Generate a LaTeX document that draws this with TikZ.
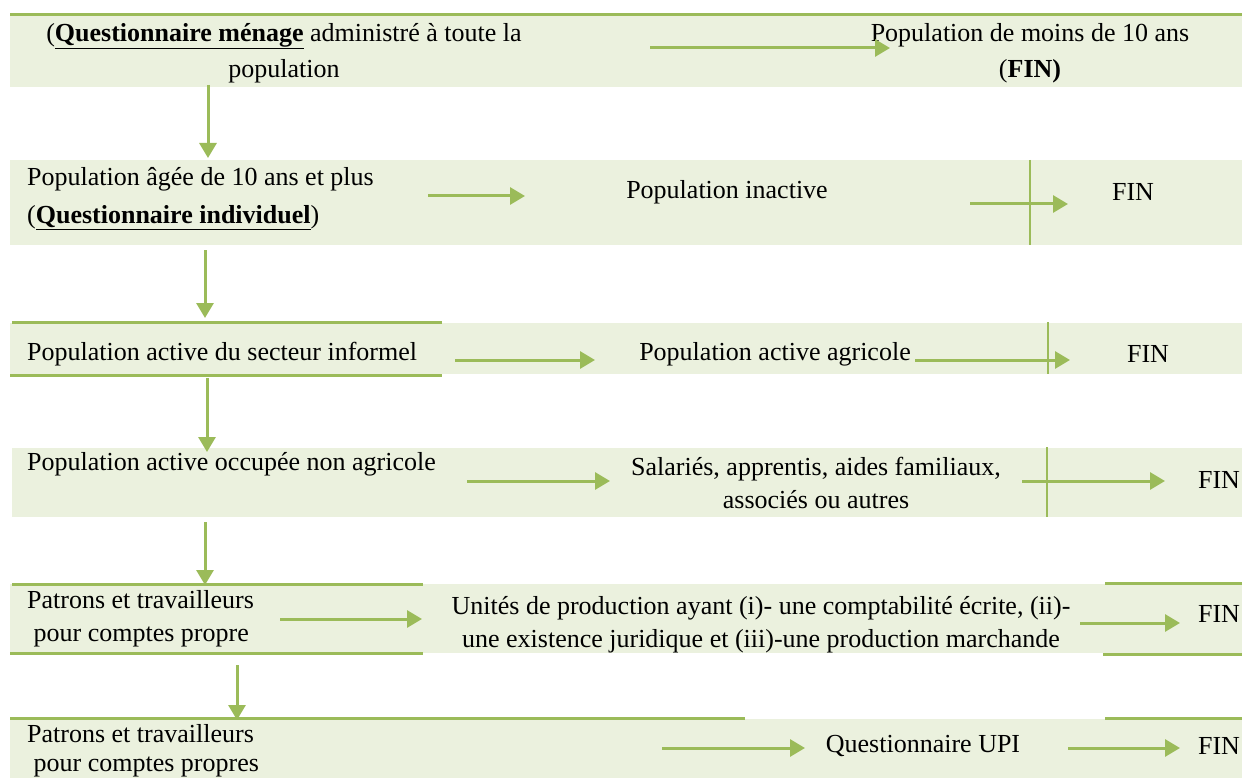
\documentclass[tikz,border=0pt]{standalone}
\usepackage{fontspec}
\setmainfont{Liberation Serif}
\usetikzlibrary{arrows.meta}
\definecolor{bandfill}{HTML}{EBF1DE}
\definecolor{olive}{HTML}{9BBB59}
\tikzset{
  band/.style={fill=bandfill,draw=none},
  rule/.style={draw=olive,line width=3pt},
  divider/.style={draw=olive,line width=2pt},
  flow/.style={draw=olive,line width=3pt,-{Triangle[length=15pt,width=17pt]}},
  txt/.style={inner sep=0pt,font=\fontsize{26}{33}\selectfont},
  wide/.style={font=\fontsize{26}{36}\selectfont},
}
\begin{document}
\begin{tikzpicture}[x=1pt,y=-1pt]
\useasboundingbox (0,0) rectangle (1242,778);
% bands
\fill[band] (10,15) rectangle (1242,87);
\fill[band] (10,160) rectangle (1242,245);
\fill[band] (10,323) rectangle (1242,374);
\fill[band] (12,448) rectangle (1242,517);
\fill[band] (10,584) rectangle (1242,653);
\fill[band] (10,719) rectangle (1242,778);
% rules
\draw[rule] (10,15) -- (1242,15);
\draw[rule] (12,322) -- (442,322);
\draw[rule] (10,375) -- (442,375);
\draw[rule] (12,584) -- (423,584);
\draw[rule] (10,653) -- (423,653);
\draw[rule] (1105,583) -- (1242,583);
\draw[rule] (1103,654) -- (1242,654);
\draw[rule] (10,718) -- (745,718);
\draw[rule] (1105,718) -- (1242,718);
\draw[divider] (1030,160) -- (1030,245);
\draw[divider] (1048,322) -- (1048,374);
\draw[divider] (1047,447) -- (1047,517);
% texts
\node[txt,wide,align=center] (t1l) at (284,53) {(\textbf{\underline{Questionnaire ménage}} administré à toute la\\population};
\node[txt,wide,align=center] (t1r) at (1030,53) {Population de moins de 10 ans\\(\textbf{FIN)}};
\node[txt,align=left,anchor=west,font=\fontsize{26}{38}\selectfont] (t2l) at (27,199) {Population âgée de 10 ans et plus\\(\textbf{\underline{Questionnaire individuel}})};
\node[txt] (t2m) at (727,192) {Population inactive};
\node[txt] (t2r) at (1133,192) {FIN};
\node[txt,anchor=west] (t3l) at (27,354) {Population active du secteur informel};
\node[txt] (t3m) at (775,354) {Population active agricole};
\node[txt] (t3r) at (1148,354) {FIN};
\node[txt,anchor=west] (t4l) at (27,464) {Population active occupée non agricole};
\node[txt,align=center] (t4m) at (816,483) {Salariés, apprentis, aides familiaux,\\associés ou autres};
\node[txt] (t4r) at (1219,480) {FIN};
\node[txt,align=left,anchor=west] (t5l) at (27,619) {Patrons et travailleurs\\\ pour comptes propre};
\node[txt,align=center] (t5m) at (761,625) {Unités de production ayant (i)- une comptabilité écrite, (ii)-\\une existence juridique et (iii)-une production marchande};
\node[txt] (t5r) at (1219,614) {FIN};
\node[txt,align=left,anchor=west,font=\fontsize{26}{29}\selectfont] (t6l) at (27,751) {Patrons et travailleurs\\\ pour comptes propres};
\node[txt] (t6m) at (923,746) {Questionnaire UPI};
\node[txt] (t6r) at (1219,746) {FIN};
% arrow end points
\coordinate (a1s) at (650,48);  \coordinate (a1e) at (890,48);
\coordinate (a2s) at (428,196); \coordinate (a2e) at (525,196);
\coordinate (a3s) at (970,204); \coordinate (a3e) at (1068,204);
\coordinate (a4s) at (455,360); \coordinate (a4e) at (595,360);
\coordinate (a5s) at (915,360); \coordinate (a5e) at (1070,360);
\coordinate (a6s) at (467,481); \coordinate (a6e) at (610,481);
\coordinate (a7s) at (1022,481);\coordinate (a7e) at (1165,481);
\coordinate (a8s) at (280,619); \coordinate (a8e) at (422,619);
\coordinate (a9s) at (1080,623);\coordinate (a9e) at (1180,623);
\coordinate (a10s) at (662,748);\coordinate (a10e) at (805,748);
\coordinate (a11s) at (1068,748);\coordinate (a11e) at (1180,748);
\coordinate (v1s) at (208,85);  \coordinate (v1e) at (208,158);
\coordinate (v2s) at (205,250); \coordinate (v2e) at (205,318);
\coordinate (v3s) at (207,378); \coordinate (v3e) at (207,452);
\coordinate (v4s) at (205,522); \coordinate (v4e) at (205,585);
\coordinate (v5s) at (237,665); \coordinate (v5e) at (237,720);
% arrows
\foreach \a in {a1,a2,a3,a4,a5,a6,a7,a8,a9,a10,a11,v1,v2,v3,v4,v5}
  \draw[flow] (\a s) -- (\a e);
\end{tikzpicture}
\end{document}
